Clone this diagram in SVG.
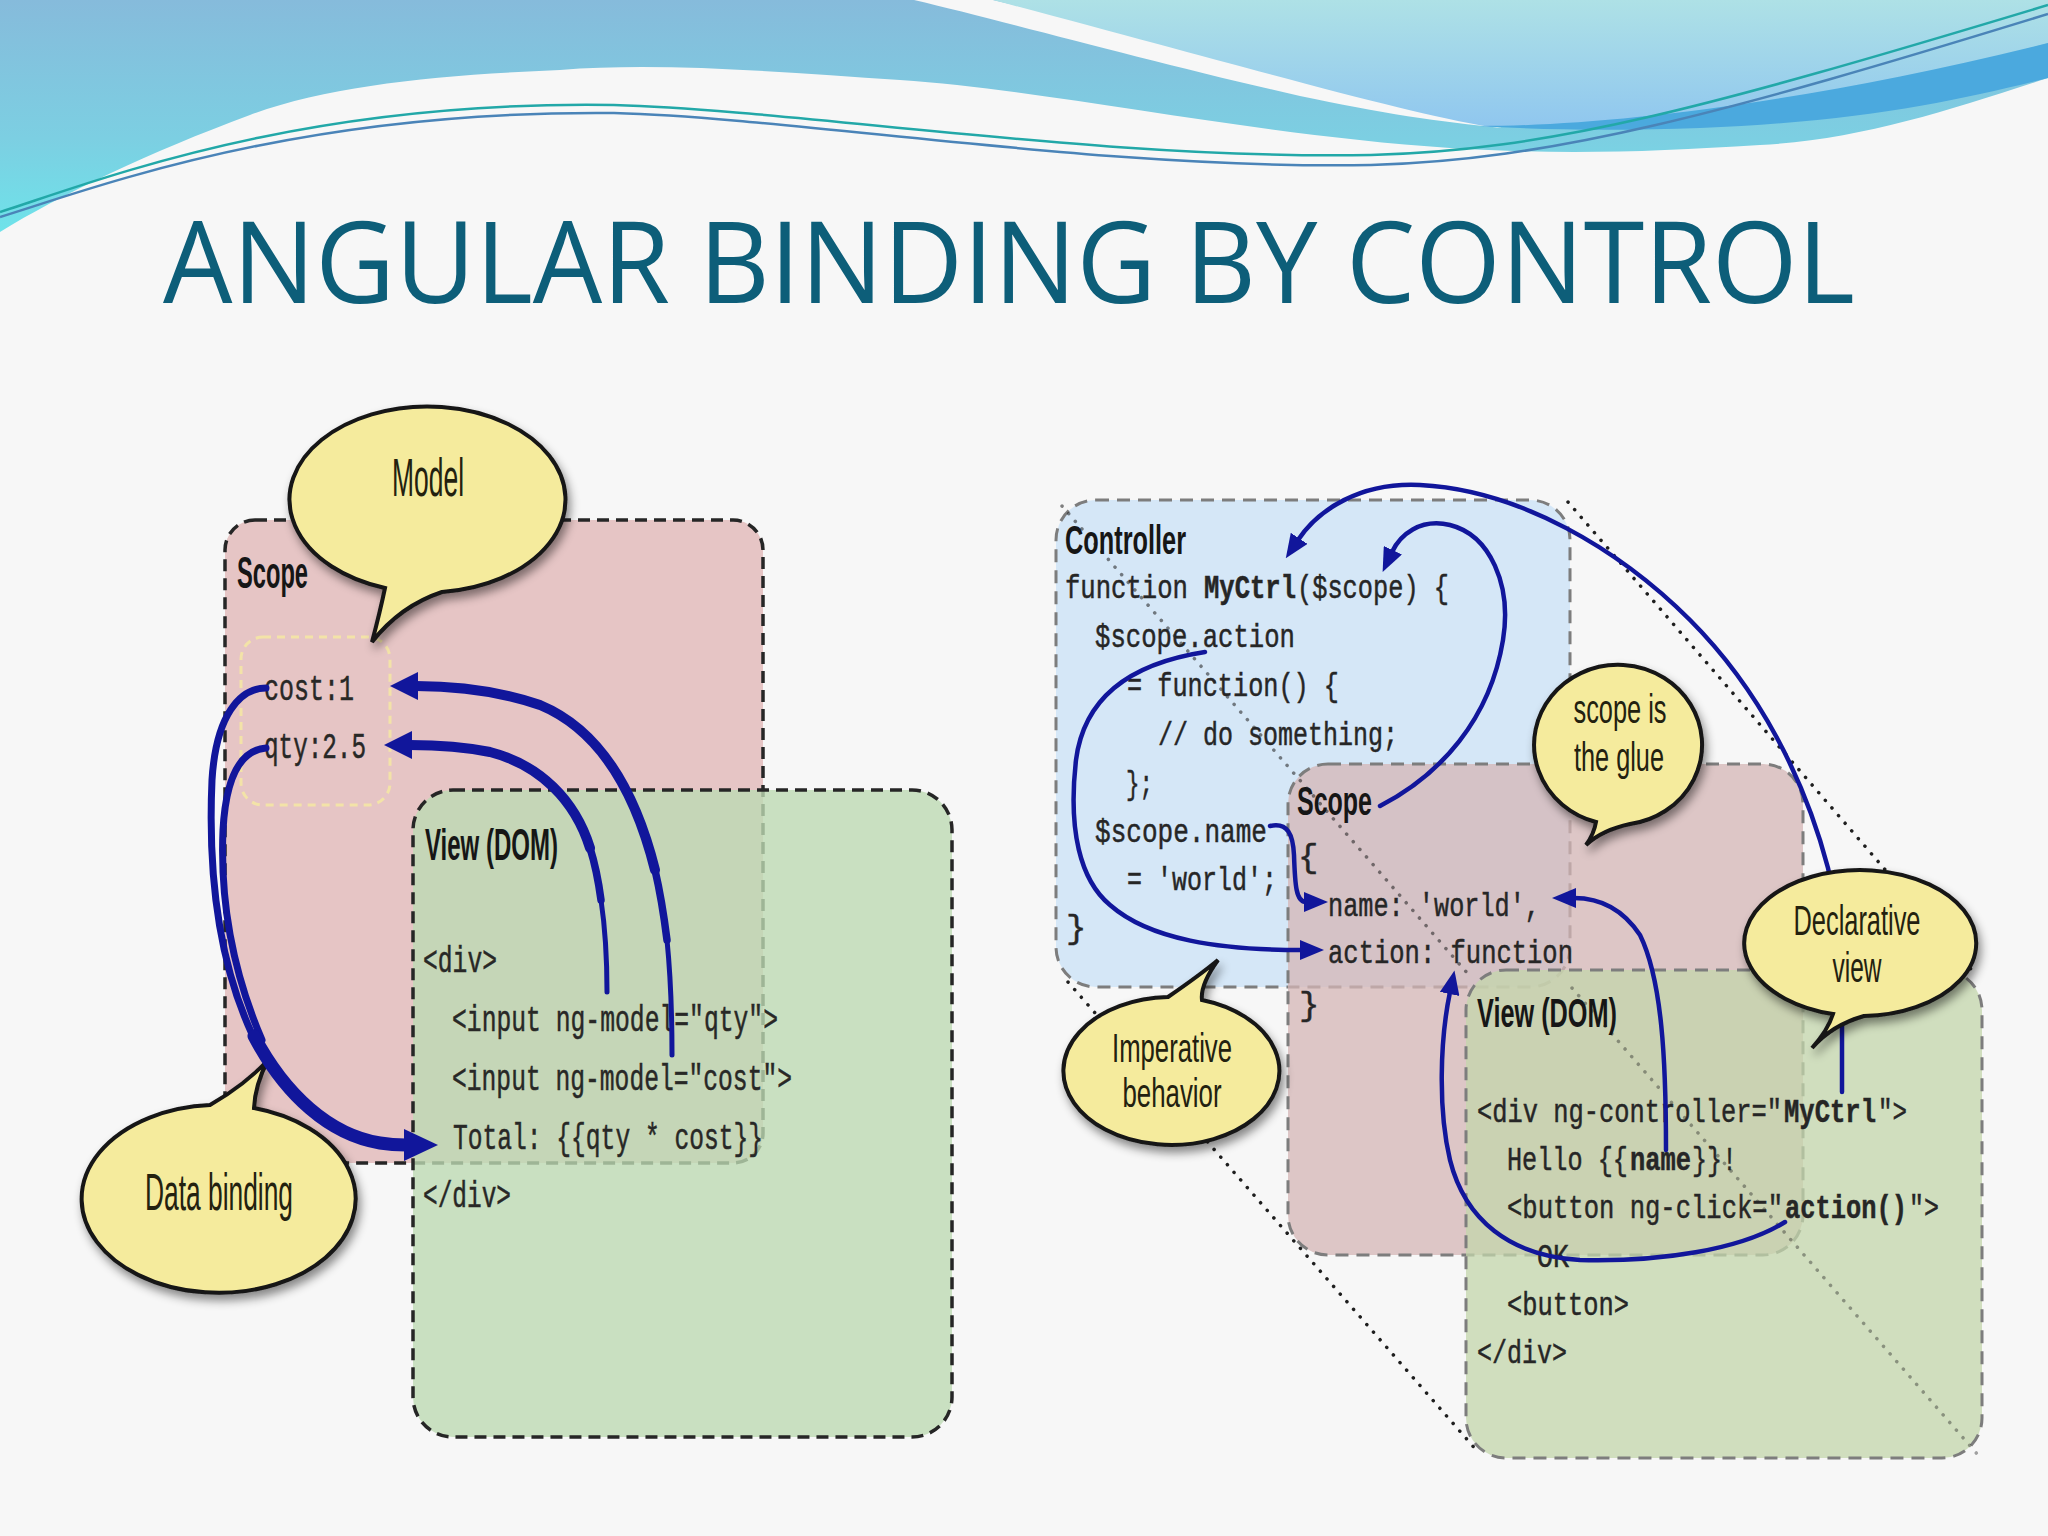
<svg xmlns="http://www.w3.org/2000/svg" width="2048" height="1536" viewBox="0 0 2048 1536">
<defs>
  <linearGradient id="gMain" x1="0" y1="0" x2="0" y2="232" gradientUnits="userSpaceOnUse">
    <stop offset="0" stop-color="#86bbdb"/>
    <stop offset="0.6" stop-color="#7ccfe2"/>
    <stop offset="1" stop-color="#6ee3ea"/>
  </linearGradient>
  <linearGradient id="gPale" x1="0" y1="0" x2="0" y2="130" gradientUnits="userSpaceOnUse">
    <stop offset="0" stop-color="#aee1e6"/>
    <stop offset="1" stop-color="#8fc6ef"/>
  </linearGradient>
  <filter id="sh" x="-20%" y="-20%" width="150%" height="170%">
    <feDropShadow dx="3" dy="6" stdDeviation="5" flood-color="#000" flood-opacity="0.45"/>
  </filter>
  <marker id="ahL" markerUnits="userSpaceOnUse" markerWidth="34" markerHeight="32" viewBox="0 0 34 32" refX="2" refY="16" orient="auto">
    <path d="M0,0 L34,16 L0,32 Z" fill="#11169b"/>
  </marker>
  <marker id="ahM" markerUnits="userSpaceOnUse" markerWidth="28" markerHeight="28" viewBox="0 0 28 28" refX="2" refY="14" orient="auto">
    <path d="M0,0 L28,14 L0,28 Z" fill="#11169b"/>
  </marker>
  <marker id="ahS" markerUnits="userSpaceOnUse" markerWidth="24" markerHeight="20" viewBox="0 0 24 20" refX="2" refY="10" orient="auto">
    <path d="M0,0 L24,10 L0,20 Z" fill="#11169b"/>
  </marker>
  <style>
    .bubble { fill:#f5eb9d; stroke:#151515; stroke-width:4; filter:url(#sh); }
    .btxt { font-family:"Liberation Sans", Arial, sans-serif; fill:#23210f; text-anchor:middle; }
    .lbl { font-family:"Liberation Sans", Arial, sans-serif; font-weight:bold; font-size:44px; fill:#161616; }
    .lbl2 { font-family:"Liberation Sans", Arial, sans-serif; font-weight:bold; font-size:40px; fill:#161616; }
    .code { font-family:"Liberation Mono", "Courier New", monospace; font-size:36px; fill:#282826; stroke:#282826; stroke-width:0.5; }
    .code2 { font-family:"Liberation Mono", "Courier New", monospace; font-size:34px; fill:#262626; stroke:#262626; stroke-width:0.5; }
    .b { font-weight:bold; }
    .arr { fill:none; stroke:#11169b; stroke-linecap:round; stroke-linejoin:round; }
    .boxL { stroke:#262626; stroke-width:3.5; stroke-dasharray:12 7; }
    .boxR { stroke:#7d7d7d; stroke-width:3; stroke-dasharray:13 8; }
    .dots { fill:none; stroke:#1e1e1e; stroke-width:3.5; stroke-dasharray:0.1 10; stroke-linecap:round; }
  </style>
</defs>

<!-- background -->
<rect x="0" y="0" width="2048" height="1536" fill="#f7f7f7"/>

<!-- header wave -->
<g id="header">
  <path d="M0,0 H2048 V78 C1950,110 1860,140 1760,145 C1650,152 1560,155 1450,148 C1250,135 1050,90 900,80 C780,72 660,62 560,70 C440,75 330,85 250,115 C150,152 60,195 0,232 Z" fill="url(#gMain)"/>
  <path d="M914,0 C1000,20 1150,62 1300,96 C1380,113 1440,122 1502,128 C1420,110 1250,60 993,0 Z" fill="#f7f7f7"/>
  <path d="M993,0 H2048 V43 C1950,70 1850,98 1700,114 C1620,122 1550,126 1490,127 C1400,112 1250,68 993,0 Z" fill="url(#gPale)"/>
  <path d="M1480,126 C1600,126 1800,105 2048,43 L2048,78 C1960,100 1860,122 1700,128 C1620,131 1540,130 1480,126 Z" fill="#4ba9de"/>
  <path d="M0,212 C100,180 300,100 614,105 C800,110 1100,160 1371,155 C1550,150 1700,110 2048,5" fill="none" stroke="#22a8a8" stroke-width="2.5"/>
  <path d="M0,217 C100,186 300,110 614,113 C800,118 1100,170 1371,165 C1550,160 1720,115 2048,14" fill="none" stroke="#4a84b8" stroke-width="2.5"/>
</g>

<text id="title" x="163" y="303" font-family="Open Sans, Liberation Sans, sans-serif" font-size="113" fill="#0d5e79" textLength="1692" lengthAdjust="spacingAndGlyphs">ANGULAR BINDING BY CONTROL</text>

<!-- ===== LEFT DIAGRAM ===== -->
<g id="left-scope">
  <rect x="225" y="520" width="538" height="643" rx="30" fill="#e6c5c5" class="boxL"/>
  <rect x="241" y="637" width="149" height="168" rx="22" fill="none" stroke="#f3e3a8" stroke-width="3" stroke-dasharray="8 6"/>
  <text class="lbl" x="237" y="588" textLength="71" lengthAdjust="spacingAndGlyphs">Scope</text>
  <text class="code" x="264" y="700" textLength="90" lengthAdjust="spacingAndGlyphs">cost:1</text>
  <text class="code" x="264" y="758" textLength="102" lengthAdjust="spacingAndGlyphs">qty:2.5</text>
</g>

<g id="left-view">
  <rect x="413" y="790" width="539" height="647" rx="40" fill="#bdd9b3" fill-opacity="0.8" class="boxL"/>
  <text class="lbl" x="425" y="860" textLength="133" lengthAdjust="spacingAndGlyphs">View (DOM)</text>
  <text class="code" x="423" y="972" textLength="74" lengthAdjust="spacingAndGlyphs">&lt;div&gt;</text>
  <text class="code" x="452" y="1031" textLength="326" lengthAdjust="spacingAndGlyphs">&lt;input ng-model="qty"&gt;</text>
  <text class="code" x="452" y="1090" textLength="340" lengthAdjust="spacingAndGlyphs">&lt;input ng-model="cost"&gt;</text>
  <text class="code" x="453" y="1149" textLength="310" lengthAdjust="spacingAndGlyphs">Total: {{qty * cost}}</text>
  <text class="code" x="423" y="1207" textLength="88" lengthAdjust="spacingAndGlyphs">&lt;/div&gt;</text>
</g>

<g id="bubble-model">
  <path class="bubble" d="M385,588 A138,93 0 1 1 442,592 Q400,606 372,642 Q380,612 385,588 Z"/>
  <text class="btxt" x="428" y="496" font-size="54" textLength="72" lengthAdjust="spacingAndGlyphs">Model</text>
</g>

<g id="bubble-databinding">
  <path class="bubble" d="M254,1108 A137,94 0 1 1 210,1105 Q245,1085 268,1060 Q255,1085 254,1108 Z"/>
  <text class="btxt" x="219" y="1210" font-size="52" textLength="148" lengthAdjust="spacingAndGlyphs">Data binding</text>
</g>

<!-- ===== RIGHT DIAGRAM ===== -->
<g id="right-controller">
  <rect x="1056" y="500" width="514" height="487" rx="40" fill="#d5e7f7" class="boxR"/>
</g>
<g id="right-scope">
  <rect x="1288" y="764" width="515" height="491" rx="40" fill="#d4b6b6" fill-opacity="0.75" class="boxR"/>
</g>
<g id="right-view">
  <rect x="1466" y="970" width="516" height="488" rx="40" fill="#c3d6ab" fill-opacity="0.75" class="boxR"/>
</g>

<g id="perspective-lines">
  <path class="dots" d="M1568,502 L1976,975"/>
  <path class="dots" d="M1068,982 L1478,1452"/>
  <path class="dots" d="M1062,506 L1468,974" stroke-opacity="0.55"/>
  <path class="dots" d="M1572,988 L1978,1455" stroke-opacity="0.4"/>
</g>

<g id="controller-text">
  <text class="lbl2" x="1065" y="554" textLength="121" lengthAdjust="spacingAndGlyphs">Controller</text>
  <text class="code2" x="1065" y="598" textLength="123" lengthAdjust="spacingAndGlyphs">function</text>
  <text class="code2 b" x="1204" y="598" textLength="92" lengthAdjust="spacingAndGlyphs">MyCtrl</text>
  <text class="code2" x="1297" y="598" textLength="152" lengthAdjust="spacingAndGlyphs">($scope) {</text>
  <text class="code2" x="1095" y="647" textLength="200" lengthAdjust="spacingAndGlyphs">$scope.action</text>
  <text class="code2" x="1127" y="696" textLength="212" lengthAdjust="spacingAndGlyphs">= function() {</text>
  <text class="code2" x="1158" y="745" textLength="240" lengthAdjust="spacingAndGlyphs">// do something;</text>
  <text class="code2" x="1126" y="794" textLength="27" lengthAdjust="spacingAndGlyphs">};</text>
  <text class="code2" x="1095" y="842" textLength="172" lengthAdjust="spacingAndGlyphs">$scope.name</text>
  <text class="code2" x="1127" y="890" textLength="150" lengthAdjust="spacingAndGlyphs">= 'world';</text>
  <text class="code2" x="1066" y="938">}</text>
</g>

<g id="scope-text">
  <text class="lbl2" x="1297" y="815" textLength="75" lengthAdjust="spacingAndGlyphs">Scope</text>
  <text class="code2" x="1298" y="867">{</text>
  <text class="code2" x="1328" y="916" textLength="212" lengthAdjust="spacingAndGlyphs">name: 'world',</text>
  <text class="code2" x="1328" y="963" textLength="245" lengthAdjust="spacingAndGlyphs">action: function</text>
  <text class="code2" x="1299" y="1015">}</text>
</g>

<g id="view-text">
  <text class="lbl2" x="1477" y="1027" textLength="140" lengthAdjust="spacingAndGlyphs">View (DOM)</text>
  <text class="code2" x="1477" y="1122" textLength="305" lengthAdjust="spacingAndGlyphs">&lt;div ng-controller="</text>
  <text class="code2 b" x="1784" y="1122" textLength="92" lengthAdjust="spacingAndGlyphs">MyCtrl</text>
  <text class="code2" x="1878" y="1122" textLength="29" lengthAdjust="spacingAndGlyphs">"&gt;</text>
  <text class="code2" x="1507" y="1170" textLength="121" lengthAdjust="spacingAndGlyphs">Hello {{</text>
  <text class="code2 b" x="1630" y="1170" textLength="61" lengthAdjust="spacingAndGlyphs">name</text>
  <text class="code2" x="1692" y="1170" textLength="45" lengthAdjust="spacingAndGlyphs">}}!</text>
  <text class="code2" x="1507" y="1218" textLength="276" lengthAdjust="spacingAndGlyphs">&lt;button ng-click="</text>
  <text class="code2 b" x="1785" y="1218" textLength="122" lengthAdjust="spacingAndGlyphs">action()</text>
  <text class="code2" x="1909" y="1218" textLength="30" lengthAdjust="spacingAndGlyphs">"&gt;</text>
  <text class="code2" x="1537" y="1267" textLength="32" lengthAdjust="spacingAndGlyphs">OK</text>
  <text class="code2" x="1507" y="1315" textLength="122" lengthAdjust="spacingAndGlyphs">&lt;button&gt;</text>
  <text class="code2" x="1477" y="1363" textLength="90" lengthAdjust="spacingAndGlyphs">&lt;/div&gt;</text>
</g>

<!-- ===== CONNECTORS ===== -->
<g id="connectors">
  <!-- left: qty input -> qty (tapered) -->
  <path class="arr" stroke-width="5" d="M607,992 Q607,940 601,900"/>
  <path class="arr" stroke-width="7.5" d="M601,900 Q597,870 590,848"/>
  <path class="arr" stroke-width="10" d="M590,848 C575,800 540,765 490,752 C460,746 430,745 410,745" marker-end="url(#ahM)"/>
  <!-- left: cost input -> cost (tapered) -->
  <path class="arr" stroke-width="5" d="M672,1055 Q672,990 667,940"/>
  <path class="arr" stroke-width="7.5" d="M667,940 Q662,900 655,870"/>
  <path class="arr" stroke-width="10" d="M655,870 C635,790 600,730 540,705 C490,688 445,686 416,686" marker-end="url(#ahM)"/>
  <!-- left: data binding cost/qty -> Total -->
  <path class="arr" stroke-width="7" d="M266,688 C240,688 216,715 212,780 C208,870 218,960 252,1034"/>
  <path class="arr" stroke-width="7" d="M266,748 C242,750 226,775 223,830 C220,900 232,970 262,1040"/>
  <path class="arr" stroke-width="13" d="M254,1036 C285,1095 330,1135 380,1143 C392,1145 400,1145 406,1145" marker-end="url(#ahL)"/>

  <!-- right: A MyCtrl (view) -> MyCtrl (controller) -->
  <path class="arr" stroke-width="4.5" d="M1842,1092 L1842,1010 C1840,950 1836,900 1828,868 C1805,780 1760,690 1690,620 C1620,550 1520,490 1420,485 C1360,482 1318,510 1298,540" marker-end="url(#ahS)"/>
  <!-- right: B Scope -> $scope param -->
  <path class="arr" stroke-width="4.5" d="M1380,806 C1440,775 1490,720 1503,640 C1512,585 1490,535 1450,525 C1420,518 1400,535 1392,552" marker-end="url(#ahS)"/>
  <!-- right: C $scope.action -> action -->
  <path class="arr" stroke-width="4.5" d="M1205,652 C1140,662 1085,690 1076,760 C1068,830 1080,880 1110,905 C1150,940 1220,950 1302,950" marker-end="url(#ahS)"/>
  <!-- right: D $scope.name -> name -->
  <path class="arr" stroke-width="4.5" d="M1270,826 C1288,822 1293,835 1294,855 C1295,885 1296,902 1306,902" marker-end="url(#ahS)"/>
  <!-- right: E {{name}} -> 'world' -->
  <path class="arr" stroke-width="4.5" d="M1666,1150 C1666,1060 1662,980 1640,935 C1620,905 1595,898 1574,898" marker-end="url(#ahS)"/>
  <!-- right: F action() -> function -->
  <path class="arr" stroke-width="4.5" d="M1785,1222 C1740,1250 1660,1262 1580,1260 C1510,1256 1465,1220 1450,1160 C1438,1110 1440,1040 1450,992" marker-end="url(#ahS)"/>
</g>

<g id="bubble-glue">
  <path class="bubble" d="M1596,822 A84,80 0 1 1 1630,824 Q1602,830 1586,845 Q1594,834 1596,822 Z"/>
  <text class="btxt" x="1620" y="723" font-size="40" textLength="93" lengthAdjust="spacingAndGlyphs">scope is</text>
  <text class="btxt" x="1619" y="771" font-size="40" textLength="90" lengthAdjust="spacingAndGlyphs">the glue</text>
</g>

<g id="bubble-declarative">
  <path class="bubble" d="M1833,1014 A116,73 0 1 1 1864,1016 Q1832,1025 1812,1048 Q1828,1030 1833,1014 Z"/>
  <text class="btxt" x="1857" y="935" font-size="42" textLength="127" lengthAdjust="spacingAndGlyphs">Declarative</text>
  <text class="btxt" x="1857" y="982" font-size="42" textLength="49" lengthAdjust="spacingAndGlyphs">view</text>
</g>

<g id="bubble-imperative">
  <path class="bubble" d="M1202,1000 A108,74 0 1 1 1168,997 Q1200,975 1218,960 Q1200,985 1202,1000 Z"/>
  <text class="btxt" x="1172" y="1062" font-size="40" textLength="120" lengthAdjust="spacingAndGlyphs">Imperative</text>
  <text class="btxt" x="1172" y="1107" font-size="40" textLength="99" lengthAdjust="spacingAndGlyphs">behavior</text>
</g>
</svg>
